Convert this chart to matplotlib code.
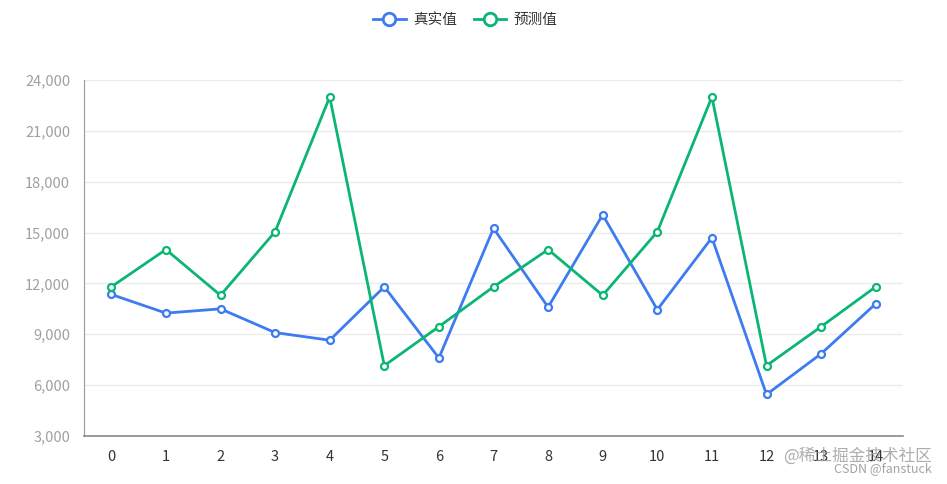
import matplotlib
matplotlib.use("Agg")
import matplotlib.pyplot as plt
from matplotlib.ticker import FuncFormatter

plt.rcParams['font.family'] = ['Noto Sans CJK SC', 'DejaVu Sans']

categories = [str(i) for i in range(15)]
real_values = [11350, 10250, 10500, 9100, 8650, 11800, 7600, 15250, 10600, 16050, 10450, 14700, 5450, 7850, 10800]
pred_values = [11800, 14000, 11300, 15050, 23000, 7150, 9450, 11800, 14000, 11300, 15050, 23000, 7150, 9450, 11800]
series_names = ['真实值', '预测值']
colors = ['#3d7bf0', '#0bb674']
y_ticks = [3000, 6000, 9000, 12000, 15000, 18000, 21000, 24000]

W, H = 947, 484
fig = plt.figure(figsize=(W / 100, H / 100), dpi=100)
ax = fig.add_axes([84 / W, 1 - 436 / H, (903 - 84) / W, (436 - 80) / H])

x = list(range(len(categories)))
for vals, name, c in zip([real_values, pred_values], series_names, colors):
    ax.plot(x, vals, color=c, lw=2, marker='o', ms=5, mfc='white', mec=c, mew=1.6,
            label=name, zorder=3, solid_joinstyle='miter')

ax.set_xlim(-0.5, len(categories) - 0.5)
ax.set_ylim(y_ticks[0], y_ticks[-1])
ax.set_yticks(y_ticks)
ax.yaxis.set_major_formatter(FuncFormatter(lambda v, p: f"{int(v):,}"))
ax.set_xticks(x)
ax.set_xticklabels(categories)
ax.grid(axis='y', color='#ebebeb', lw=1)
ax.set_axisbelow(True)
for s in ['top', 'right']:
    ax.spines[s].set_visible(False)
ax.spines['left'].set_color('#999999')
ax.spines['bottom'].set_color('#888888')
ax.spines['bottom'].set_linewidth(1.2)
ax.tick_params(axis='y', length=0, labelsize=10.5, labelcolor='#a0a0a0', pad=10)
ax.tick_params(axis='x', length=0, labelsize=10.5, labelcolor='#333333', pad=10)

leg = fig.legend(loc='upper center', bbox_to_anchor=(0.4915, 1.0), ncol=2, frameon=False,
                 fontsize=10.5, handlelength=2.2, columnspacing=1.2, handletextpad=0.5)
for h in leg.legend_handles:
    h.set_markersize(9)
    h.set_markeredgewidth(2)
for t in leg.get_texts():
    t.set_color('#333333')

fig.text(932 / W, 1 - 456 / H, '@稀土掘金技术社区', ha='right', va='center', fontsize=12,
         color='#999999', alpha=0.8)
fig.text(932 / W, 1 - 469 / H, 'CSDN @fanstuck', ha='right', va='center', fontsize=9,
         color='#999999', alpha=0.9)

fig.savefig('out.png', dpi=100, facecolor='white')
